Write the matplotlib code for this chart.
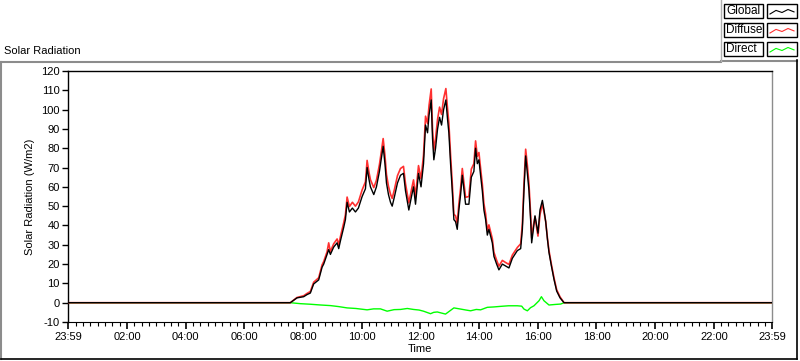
import matplotlib
matplotlib.use("Agg")
import matplotlib.pyplot as plt
from matplotlib.lines import Line2D
from matplotlib.patches import Rectangle
import numpy as np

plt.rcParams['font.family'] = ['Liberation Sans', 'DejaVu Sans']

# ---------------- data ----------------
t_global = [-0.017, 7.562, 7.79, 8.017, 8.132, 8.245, 8.358, 8.529, 8.645, 8.70, 8.815, 8.87, 8.928,
            9.04, 9.157, 9.212, 9.27, 9.382, 9.44, 9.498, 9.577, 9.678, 9.782, 9.883, 10.01,
            10.123, 10.18, 10.242, 10.293, 10.407, 10.498, 10.6, 10.668, 10.727, 10.788, 10.84,
            10.908, 10.977, 11.035, 11.113, 11.215, 11.318, 11.42, 11.488, 11.602, 11.693,
            11.762, 11.83, 11.932, 12.018, 12.103, 12.172, 12.24, 12.29, 12.365, 12.41, 12.455,
            12.513, 12.582, 12.65, 12.718, 12.787, 12.865, 12.922, 12.967, 13.025, 13.083,
            13.138, 13.195, 13.253, 13.308, 13.367, 13.425, 13.485, 13.537, 13.65, 13.732,
            13.82, 13.878, 13.937, 13.992, 14.048, 14.107, 14.162, 14.22, 14.278, 14.332,
            14.448, 14.503, 14.595, 14.673, 14.79, 14.903, 15.015, 15.132, 15.302, 15.415,
            15.473, 15.527, 15.585, 15.643, 15.698, 15.757, 15.79, 15.848, 15.903, 15.962,
            16.005, 16.073, 16.155, 16.21, 16.268, 16.327, 16.38, 16.463, 16.552, 16.643,
            16.757, 16.893, 23.983]

global_rad = [0, 0, 2.5, 3.1, 4.2, 5, 9.7, 11.8, 18.4, 20, 25, 27.5, 25,
              28.8, 31, 28, 32, 39, 43, 52, 47, 49, 47, 49, 55,
              59, 70, 64, 60, 56, 60, 68, 75, 81, 72, 62,
              56, 52, 50, 55, 62, 66, 67, 58, 48, 55,
              60, 51, 67, 60, 72, 92, 88, 97, 105, 85, 74,
              80, 90, 96, 92, 100, 105, 95, 88, 72, 58,
              43, 42, 38, 48, 56, 66, 58, 51, 51, 65,
              68, 80, 72, 74, 66, 58, 48, 43, 35, 38,
              31, 24, 20, 17, 20, 19, 18, 23, 27, 28,
              38, 58, 76, 67, 58, 42, 31, 38, 45, 40,
              36, 48, 53, 48, 42, 33, 26, 19, 12, 6,
              2.5, 0, 0]

diffuse_rad = [0, 0, 2.7, 3.6, 4.8, 5.8, 10.6, 12.9, 19.6, 21.3, 26.4, 31, 26.5,
               30.5, 33, 30, 34.2, 41.4, 45.5, 54.7, 49.8, 52, 50, 52.2, 58.4,
               62.6, 73.7, 67.7, 63.7, 59.6, 63.4, 71.5, 78.6, 85, 76.3, 66.4,
               60.3, 56.2, 54, 58.8, 65.8, 69.5, 70.6, 61.7, 51.7, 58.6,
               63.6, 55, 71, 64.2, 76.4, 96.6, 92.8, 102, 110.7, 90, 79,
               85, 95, 101.3, 97.5, 105.7, 110.9, 100.5, 93, 76.5, 61.8,
               45.8, 45, 41, 51.2, 59.3, 69.5, 61.5, 54.6, 55, 69.2,
               72, 83.8, 75.8, 77.8, 69.7, 61.5, 51.3, 46, 37.4, 40.3,
               33.2, 26.1, 22, 18.9, 21.9, 20.8, 19.8, 24.7, 28.6, 30.5,
               41, 61.3, 79.5, 71.2, 61.5, 45, 33.5, 40, 44.5, 38.5,
               34.5, 45.6, 51, 47, 42, 33.5, 27, 19.8, 12.8, 6.7,
               3, 0, 0]

t_direct = [-0.017, 7.56, 7.9, 8.245, 8.6, 8.928, 9.2, 9.498, 9.8, 10.18, 10.4, 10.635, 10.863,
            11.1, 11.318, 11.55, 11.762, 11.95, 12.103, 12.342, 12.45, 12.572, 12.7, 12.853,
            13.138, 13.367, 13.55, 13.708, 13.9, 14.048, 14.278, 14.5, 14.732, 15.0, 15.302,
            15.45, 15.527, 15.643, 15.75, 15.868, 16.04, 16.122, 16.21, 16.38, 16.6, 16.78,
            16.893, 23.983]

direct_rad = [0, 0, -0.5, -0.8, -1.2, -1.5, -2.0, -2.7, -3.0, -3.7, -3.2, -3.2, -4.4,
              -3.6, -3.5, -3.0, -3.5, -3.8, -4.4, -5.7, -5.0, -4.8, -5.3, -5.9,
              -2.7, -3.3, -3.8, -4.2, -3.5, -3.7, -2.4, -2.2, -1.9, -1.6, -1.6,
              -1.8, -3.3, -4.2, -2.6, -1.6, 1.0, 3.1, 1.0, -1.2, -0.9, -0.7,
              0, 0]

x_tick_pos = [-0.017, 2, 4, 6, 8, 10, 12, 14, 16, 18, 20, 22, 23.983]
x_tick_labels = ["23:59", "02:00", "04:00", "06:00", "08:00", "10:00", "12:00",
                 "14:00", "16:00", "18:00", "20:00", "22:00", "23:59"]
y_ticks = list(range(-10, 121, 10))

series_names = ["Global", "Diffuse", "Direct"]
series_colors = ["#000000", "#ff3030", "#00ff00"]

# ---------------- figure ----------------
W, H = 800, 361
fig = plt.figure(figsize=(W / 100, H / 100), dpi=100)
fig.patch.set_facecolor("white")

def fx(px):
    return px / W

def fy(py):
    return 1 - py / H

ax = fig.add_axes([fx(68), fy(322), fx(772) - fx(68), fy(71) - fy(322)])
ax.set_facecolor("white")

ax.plot(t_direct, direct_rad, color=series_colors[2], lw=1.0, zorder=2)
ax.plot(t_global, diffuse_rad, color=series_colors[1], lw=1.2, zorder=3)
ax.plot(t_global, global_rad, color=series_colors[0], lw=1.0, zorder=4)

ax.set_xlim(-0.017, 23.983)
ax.set_ylim(-10, 120)

ax.set_xticks(x_tick_pos)
ax.set_xticklabels(x_tick_labels)
minor = [m / 4 for m in range(0, 97) if m % 8 != 0]
ax.set_xticks(minor, minor=True)
ax.set_yticks(y_ticks)
ax.set_yticklabels([str(v) for v in y_ticks])

ax.tick_params(axis="x", which="major", direction="out", length=5, width=1.2,
               labelsize=8, pad=2, color="black")
ax.tick_params(axis="x", which="minor", direction="out", length=3, width=0.8, color="black")
ax.tick_params(axis="y", which="major", direction="out", length=4, width=1.0,
               labelsize=8, pad=2, color="black")

for s in ["left", "top"]:
    ax.spines[s].set_color("black")
    ax.spines[s].set_linewidth(1.0)
ax.spines["right"].set_color("#8c8c8c")
ax.spines["right"].set_linewidth(1.0)
ax.spines["bottom"].set_color("black")
ax.spines["bottom"].set_linewidth(0.8)

ax.set_xlabel("Time", fontsize=8, labelpad=2)
ax.set_ylabel("Solar Radiation (W/m2)", fontsize=8, labelpad=4)

# title
fig.text(fx(4), fy(51), "Solar Radiation", fontsize=8, ha="left", va="center")

# outer frame
fig.add_artist(Line2D([fx(0.5), fx(721)], [fy(61.5), fy(61.5)], color="#8c8c8c", lw=1.5))
fig.add_artist(Line2D([fx(721), fx(797)], [fy(60.5), fy(60.5)], color="#8c8c8c", lw=1.5))
fig.add_artist(Line2D([fx(0.5), fx(0.5)], [fy(61.5), fy(359)], color="#8c8c8c", lw=1.5))
fig.add_artist(Line2D([fx(796.5), fx(796.5)], [fy(60), fy(359)], color="black", lw=1.2))
fig.add_artist(Line2D([fx(0.5), fx(797)], [fy(358.5), fy(358.5)], color="black", lw=1.2))
fig.add_artist(Line2D([fx(721), fx(721)], [fy(0), fy(61)], color="#b0b0b0", lw=1.0))

# legend
row_tops = [4, 23, 42]
zig = [0.0, 0.6, 0.25, 0.75, 0.35]
for name, col, top in zip(series_names, series_colors, row_tops):
    h = 14
    fig.add_artist(Rectangle((fx(724), fy(top + h)), fx(763) - fx(724), fy(top) - fy(top + h),
                             fill=False, edgecolor="black", lw=1.0))
    fig.add_artist(Rectangle((fx(767), fy(top + h)), fx(797) - fx(767), fy(top) - fy(top + h),
                             fill=False, edgecolor="black", lw=1.0))
    fig.text(fx(726), fy(top + h / 2), name, fontsize=8.5, ha="left", va="center")
    xs = np.linspace(fx(770), fx(794), len(zig))
    ys = [fy(top + 10) + z * (fy(top + 4) - fy(top + 10)) for z in zig]
    fig.add_artist(Line2D(xs, ys, color=col, lw=0.8))

fig.savefig("out.png", dpi=100)
